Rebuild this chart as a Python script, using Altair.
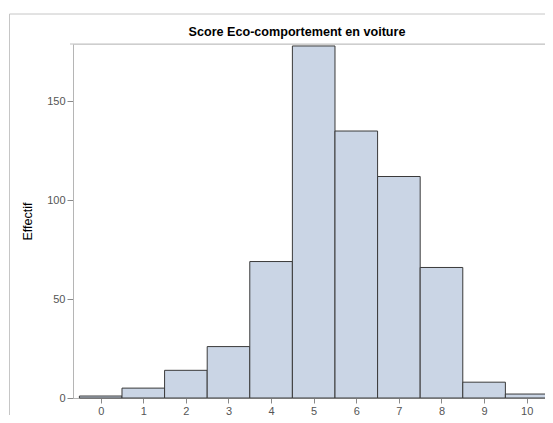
import altair as alt
import pandas as pd

scores = [0, 1, 2, 3, 4, 5, 6, 7, 8, 9, 10]
counts = [1, 5, 14, 26, 69, 178, 135, 112, 66, 8, 2]
x_ticks = [0, 1, 2, 3, 4, 5, 6, 7, 8, 9, 10]
y_ticks = [0, 50, 100, 150]
title_text = "Score Eco-comportement en voiture"
y_title = "Effectif"

df = pd.DataFrame({"score": scores, "effectif": counts})
FONT = "Liberation Sans"

xscale = alt.Scale(domain=[-0.65, 10.43], nice=False, zero=False)
yscale = alt.Scale(domain=[0, 179], nice=False)

bars = alt.Chart(df).transform_calculate(
    lo="datum.score - 0.5", hi="datum.score + 0.5"
).mark_rect(
    fill="#CAD5E5", stroke="#3a3a3a", strokeWidth=1
).encode(
    x=alt.X("lo:Q", scale=xscale,
            axis=alt.Axis(values=x_ticks, title=None, grid=False, domainColor="#b5b5b5",
                          tickColor="#8a8a8a", tickSize=5, labelColor="#555555",
                          labelFontSize=11, labelFont=FONT, labelPadding=2, format="d")),
    x2="hi:Q",
    y=alt.Y("effectif:Q", scale=yscale,
            axis=alt.Axis(values=y_ticks, title=y_title, grid=False, domainColor="#b5b5b5",
                          tickColor="#8a8a8a", tickSize=6, labelColor="#555555",
                          labelFontSize=11, labelFont=FONT, labelPadding=2,
                          titleFont=FONT, titleFontSize=12.5, titleFontWeight=500,
                          titleColor="#000000", titleAngle=270, titleAlign="center",
                          titleBaseline="middle", titleX=-46, titleY=177)),
    y2=alt.datum(0),
)

frame_df = pd.DataFrame({"k": [1]})
frame = alt.Chart(frame_df).mark_rect(
    fillOpacity=0, stroke="#c6c6c6", strokeWidth=1, clip=False
).encode(
    x=alt.value(-63.5), x2=alt.value(1000), y=alt.value(-30), y2=alt.value(1000)
)

top_line = alt.Chart(frame_df).mark_rule(stroke="#c0c0c0", strokeWidth=1).encode(
    x=alt.value(-3), x2=alt.value(480), y=alt.value(0)
)

title_df = pd.DataFrame({"t": [title_text]})
title = alt.Chart(title_df).mark_text(
    font=FONT, fontSize=12.6, fontWeight="bold", color="#000000",
    align="center", baseline="middle"
).encode(text="t:N", x=alt.value(224), y=alt.value(-12))

chart = alt.layer(frame, top_line, bars, title).properties(
    width=472, height=354,
    padding={"left": 65, "top": 36, "right": 0, "bottom": 17},
    autosize=alt.AutoSizeParams(type="none"),
).configure_view(stroke=None).configure(background="white")

chart.save("out.html", embed_options={"renderer": "svg", "actions": False})
